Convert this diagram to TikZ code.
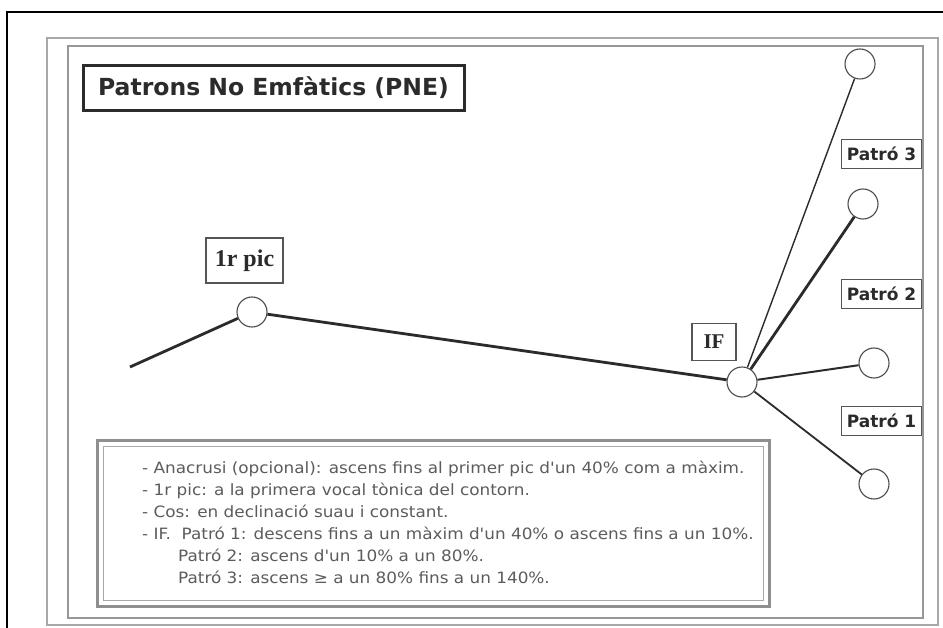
\documentclass[tikz,border=0pt]{standalone}
\usepackage{fontspec}
\setmainfont{Liberation Serif}
\newfontfamily\labelfont{DejaVu Sans}
\newfontfamily\notefont[FakeStretch=1.08]{DejaVu Sans}
\definecolor{ink}{HTML}{2B2B2B}
\definecolor{notegray}{HTML}{5C5C5C}
\definecolor{framegray}{HTML}{A8A8A8}
\begin{document}
\begin{tikzpicture}[x=1pt,y=-1pt,
  dot/.style={circle,draw=ink!85,line width=1.1pt,fill=white,minimum size=30pt,inner sep=0pt},
  tagbox/.style={draw=ink!80,line width=1.2pt,fill=white,inner sep=0pt,minimum height=29pt,
    font=\labelfont\bfseries\fontsize{17}{17}\selectfont,text=ink},
  serifbox/.style={draw=ink!80,line width=1.2pt,fill=white,inner sep=0pt,
    font=\bfseries\fontsize{24}{24}\selectfont,text=ink},
  contour/.style={draw=ink,line width=2.8pt},
  noteline/.style={anchor=base west,inner sep=0pt,text=notegray,
    font=\notefont\fontsize{15.6}{15.6}\selectfont}]
\useasboundingbox (0,0) rectangle (943,628);
\fill[white] (0,0) rectangle (943,628);

% outer black border (open at right and bottom)
\draw[black,line width=2.4pt] (7,628) -- (7,12) -- (943,12);

% double gray frame
\draw[framegray,line width=1.8pt] (47,38) rectangle (938,625);
\draw[framegray!90!black,line width=1.6pt] (68,46) rectangle (923,618);

% title
\node[draw=ink,line width=3pt,minimum width=381pt,minimum height=45pt,inner sep=0pt,
  font=\labelfont\bfseries\fontsize{23.5}{23.5}\selectfont,text=ink] (title) at (273.5,88)
  {Patrons No Emfàtics (PNE)};

% contour points
\coordinate (start) at (130,367);
\node[dot] (pic) at (252,312) {};
\node[dot] (if) at (742,382) {};
\node[dot] (p3) at (860,64) {};
\node[dot] (p2) at (863,204) {};
\node[dot] (pm) at (874,363) {};
\node[dot] (p1) at (874,484) {};

% contour and final branches
\draw[contour] (start) -- (pic);
\draw[contour] (pic) -- (if);
\draw[draw=ink,line width=1.4pt] (if) -- (p3);
\draw[draw=ink,line width=2.8pt] (if) -- (p2);
\draw[draw=ink,line width=2pt] (if) -- (pm);
\draw[draw=ink,line width=1.8pt] (if) -- (p1);

% labels
\node[serifbox,minimum width=77pt,minimum height=45pt] (piclab) at (244.5,260.5) {1r pic};
\node[serifbox,minimum width=44pt,minimum height=37pt,font=\bfseries\fontsize{21}{21}\selectfont] (iflab) at (714,342) {IF};
\node[tagbox,minimum width=80pt] (lab3) at (881.5,154) {Patró 3};
\node[tagbox,minimum width=80pt] (lab2) at (881.5,294) {Patró 2};
\node[tagbox,minimum width=80pt] (lab1) at (881.5,421) {Patró 1};

% notes box with double border
\draw[framegray!85!black,line width=3pt] (97,440) rectangle (769,606);
\draw[framegray,line width=1pt] (103,446) rectangle (763,600);
\node[noteline] (n1) at (142,473) {- Anacrusi (opcional): ascens fins al primer pic d'un 40\% com a màxim.};
\node[noteline] (n2) at (142,495) {- 1r pic: a la primera vocal tònica del contorn.};
\node[noteline] (n3) at (142,517) {- Cos: en declinació suau i constant.};
\node[noteline] (n4) at (142,539) {- IF.\ \ Patró 1: descens fins a un màxim d'un 40\% o ascens fins a un 10\%.};
\node[noteline] (n5) at (178,561) {Patró 2: ascens d'un 10\% a un 80\%.};
\node[noteline] (n6) at (178,583) {Patró 3: ascens ≥ a un 80\% fins a un 140\%.};
\end{tikzpicture}
\end{document}
